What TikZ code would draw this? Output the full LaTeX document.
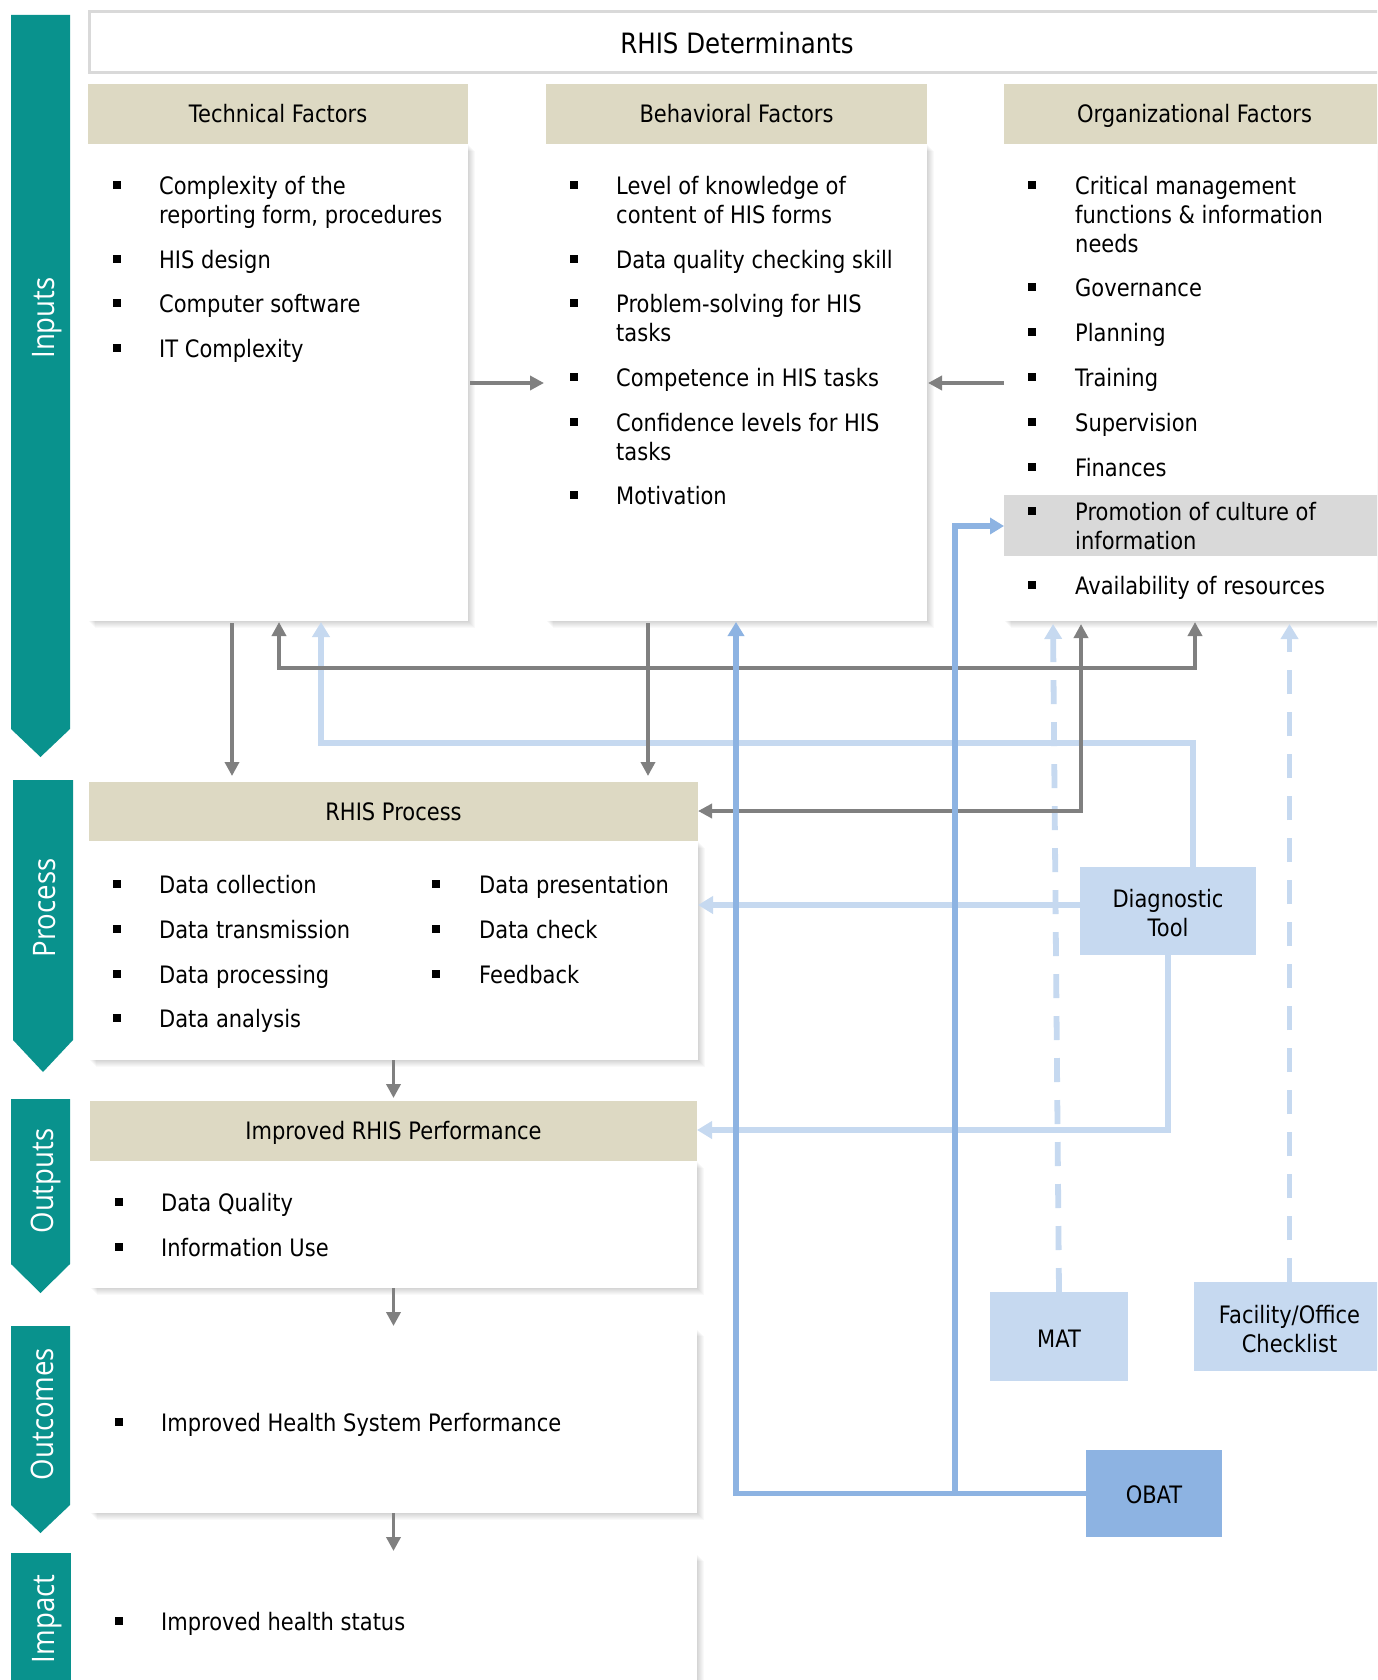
\documentclass[tikz,border=0pt]{standalone}
\usepackage{fontspec}
\setmainfont{DejaVu Sans}[FakeStretch=0.875]
\newfontfamily\bannerfont{Open Sans}[FakeStretch=0.89]
\usetikzlibrary{arrows.meta}

\definecolor{bandteal}{RGB}{9,146,141}
\definecolor{headtan}{RGB}{221,217,195}
\definecolor{framegray}{RGB}{217,217,217}
\definecolor{hilite}{RGB}{217,217,217}
\definecolor{linkgray}{RGB}{128,128,128}
\definecolor{toollight}{RGB}{198,217,240}
\definecolor{tooldark}{RGB}{141,179,226}

\newcommand\itemfont{\fontsize{24}{29}\selectfont}
\newcommand\nl{\\\strut}
% raises the first line of a tool label so the text sits slightly low
\newcommand\toplift[1]{\rule{0pt}{#1}}
% bullet item: name, bullet x, text x, line centre y, text
\newcommand\bitem[5]{%
  \node[bulletsq] (#1-b) at (#2,#4) {};
  \node[itemtext] (#1) at (#3,#4-11.3) {\strut #5};}
% soft shadow below and right of a box
\newcommand\dropshade[4]{%
  \foreach \k in {1,...,7}{\fill[black,opacity=0.022] (#1+\k,#2+\k) rectangle (#3+\k,#4+\k);}}

\tikzset{
  gtip/.tip={Triangle[length=14pt,width=14pt]},
  ltip/.tip={Triangle[length=15pt,width=17pt]},
  dtip/.tip={Triangle[length=14pt,width=16pt]},
  box/.style={rectangle, inner sep=0pt, outer sep=0pt},
  headbox/.style={box, fill=headtan, font=\itemfont, text height=20pt, text depth=2.5pt},
  bodybox/.style={box, fill=white},
  toolbox/.style={box, fill=toollight, font=\itemfont, align=center},
  bulletsq/.style={box, fill=black, minimum width=7.5pt, minimum height=7.5pt},
  itemtext/.style={anchor=north west, inner sep=0pt, align=left, font=\itemfont},
  bandlabel/.style={rotate=90, anchor=base, text=white, inner sep=0pt,
    font=\bannerfont\fontsize{31}{31}\selectfont},
  graylink/.style={draw=linkgray, line width=3.8pt, -gtip},
  lightlink/.style={draw=toollight, line width=5.8pt, -ltip},
  dashlink/.style={lightlink, dash pattern=on 24pt off 18pt},
  darklink/.style={draw=tooldark, line width=5.8pt, -dtip},
}

\begin{document}
\begin{tikzpicture}[x=1pt, y=-1pt]
\useasboundingbox (0,0) rectangle (1377,1680);
\clip (0,0) rectangle (1377,1680);
\fill[white] (0,0) rectangle (1377,1680);

% stage bands on the left
\fill[bandteal] (11,15) -- (70,15) -- (70,729) -- (40.5,757) -- (11,729) -- cycle;
\fill[bandteal] (13,780) -- (73,780) -- (73,1040) -- (43,1072) -- (13,1040) -- cycle;
\fill[bandteal] (11,1099) -- (70,1099) -- (70,1264) -- (40.5,1293) -- (11,1264) -- cycle;
\fill[bandteal] (11,1326) -- (70,1326) -- (70,1505) -- (40.5,1533) -- (11,1505) -- cycle;
\fill[bandteal] (11,1553) rectangle (71,1700);
\node[bandlabel] (lblinputs) at (54,318) {Inputs};
\node[bandlabel] (lblprocess) at (55,908) {Process};
\node[bandlabel] (lbloutputs) at (53,1181) {Outputs};
\node[bandlabel] (lbloutcomes) at (53,1414) {Outcomes};
\node[bandlabel] (lblimpact) at (54,1619) {Impact};

% shadows of the white boxes
\dropshade{88}{144}{468}{621}
\dropshade{546}{144}{927}{621}
\dropshade{1004}{144}{1385}{621}
\dropshade{89}{841}{698}{1060}
\dropshade{90}{1161}{697}{1288}
\dropshade{90}{1329}{697}{1513}
\dropshade{90}{1554}{697}{1700}

% determinants
\node[box, draw=framegray, line width=3pt, minimum width=1296pt, minimum height=61pt,
      font=\fontsize{28}{34}\selectfont, text height=23pt, text depth=0pt] (title) at (737,42.5) {RHIS Determinants};
\node[headbox, minimum width=380pt, minimum height=60pt] (techhead) at (278,114) {Technical Factors};
\node[headbox, minimum width=381pt, minimum height=60pt] (behavhead) at (736.5,114) {Behavioral Factors};
\node[headbox, minimum width=381pt, minimum height=60pt] (orghead) at (1194.5,114) {Organizational Factors};
\node[bodybox, minimum width=380pt, minimum height=477pt] (techbody) at (278,382.5) {};
\node[bodybox, minimum width=381pt, minimum height=477pt] (behavbody) at (736.5,382.5) {};
\node[bodybox, minimum width=381pt, minimum height=477pt] (orgbody) at (1194.5,382.5) {};
\node[box, fill=hilite, minimum width=381pt, minimum height=61pt] (orghilite) at (1194.5,525.5) {};

\bitem{t1}{117}{159}{185}{Complexity of the\nl reporting form, procedures}
\bitem{t2}{117}{159}{259}{HIS design}
\bitem{t3}{117}{159}{303}{Computer software}
\bitem{t4}{117}{159}{348}{IT Complexity}

\bitem{b1}{574}{616}{185}{Level of knowledge of\nl content of HIS forms}
\bitem{b2}{574}{616}{259}{Data quality checking skill}
\bitem{b3}{574}{616}{303}{Problem-solving for HIS\nl tasks}
\bitem{b4}{574}{616}{377}{Competence in HIS tasks}
\bitem{b5}{574}{616}{422}{Confidence levels for HIS\nl tasks}
\bitem{b6}{574}{616}{495}{Motivation}

\bitem{o1}{1032}{1075}{185}{Critical management\nl functions \& information\nl needs}
\bitem{o2}{1032}{1075}{287}{Governance}
\bitem{o3}{1032}{1075}{332}{Planning}
\bitem{o4}{1032}{1075}{377}{Training}
\bitem{o5}{1032}{1075}{422}{Supervision}
\bitem{o6}{1032}{1075}{467}{Finances}
\bitem{o7}{1032}{1075}{511}{Promotion of culture of\nl information}
\bitem{o8}{1032}{1075}{585}{Availability of resources}

% process
\node[headbox, minimum width=609pt, minimum height=59pt] (prochead) at (393.5,811.5) {RHIS Process};
\node[bodybox, minimum width=609pt, minimum height=219pt] (procbody) at (393.5,950.5) {};
\bitem{p1}{117}{159}{884}{Data collection}
\bitem{p2}{117}{159}{929}{Data transmission}
\bitem{p3}{117}{159}{974}{Data processing}
\bitem{p4}{117}{159}{1018}{Data analysis}
\bitem{p5}{436}{479}{884}{Data presentation}
\bitem{p6}{436}{479}{929}{Data check}
\bitem{p7}{436}{479}{974}{Feedback}

% outputs, outcomes, impact
\node[headbox, minimum width=607pt, minimum height=60pt] (outhead) at (393.5,1131) {Improved RHIS Performance};
\node[bodybox, minimum width=607pt, minimum height=127pt] (outbody) at (393.5,1224.5) {};
\bitem{q1}{119}{161}{1202}{Data Quality}
\bitem{q2}{119}{161}{1247}{Information Use}
\node[bodybox, minimum width=607pt, minimum height=184pt] (outcbody) at (393.5,1421) {};
\bitem{r1}{119}{161}{1422}{Improved Health System Performance}
\node[bodybox, minimum width=607pt, minimum height=146pt] (impbody) at (393.5,1627) {};
\bitem{s1}{119}{161}{1621}{Improved health status}

% assessment tools
\node[toolbox, minimum width=176pt, minimum height=88pt] (diag) at (1168,911) {\toplift{23pt}Diagnostic\\Tool};
\node[toolbox, minimum width=138pt, minimum height=89pt] (mat) at (1059,1336.5) {\toplift{22.5pt}MAT};
\node[toolbox, minimum width=191pt, minimum height=89pt] (fac) at (1289.5,1326.5) {\toplift{23pt}Facility/Office\\Checklist};
\node[toolbox, fill=tooldark, minimum width=136pt, minimum height=87pt] (obat) at (1154,1493.5) {\toplift{20pt}OBAT};

% tool links (light)
\draw[lightlink, shorten >=1pt] (1193,0 |- diag.north) -- (1193,743) -- (321,743) -- (321,0 |- techbody.south);
\draw[lightlink] (diag.west |- 0,905) -- (procbody.east |- 0,905);
\draw[lightlink] (diag.south) -- (1168,1130) -- (outhead.east |- 0,1130);
\draw[dashlink, shorten >=3pt] (mat.north) -- (1053,0 |- orgbody.south);
\draw[dashlink, shorten >=3pt] (fac.north) -- (fac.north |- orgbody.south);

% determinant and stage links
\draw[graylink, shorten <=2pt, shorten >=2pt] (techbody.east |- 0,383) -- (behavbody.west |- 0,383);
\draw[graylink, shorten >=1pt] (orgbody.west |- 0,383) -- (behavbody.east |- 0,383);
\draw[graylink, shorten <=2pt, shorten >=6pt] (232,0 |- techbody.south) -- (232,0 |- prochead.north);
\draw[graylink, shorten <=2pt, shorten >=6pt] (648,0 |- behavbody.south) -- (648,0 |- prochead.north);
\draw[graylink, gtip-gtip, shorten <=1pt, shorten >=1pt] (279,0 |- techbody.south) -- (279,668) -- (1195,668) -- (1195,0 |- orgbody.south);
\draw[graylink, gtip-gtip, shorten >=3pt] (prochead.east |- 0,811) -- (1081,811) -- (1081,0 |- orgbody.south);
\draw[graylink, shorten >=3pt] (procbody.south) -- (outhead.north);
\draw[graylink, shorten >=3pt] (outbody.south) -- (outcbody.north);
\draw[graylink, shorten >=3pt] (outcbody.south) -- (impbody.north);

% OBAT links (dark)
\coordinate (obatjoin) at (955,0 |- obat.west);
\draw[darklink, shorten >=1pt] (obat.west) -- (736,0 |- obat.west) -- (736,0 |- behavbody.south);
\draw[darklink] (obatjoin) -- (955,526) -- (orghilite.west |- 0,526);
\end{tikzpicture}
\end{document}
